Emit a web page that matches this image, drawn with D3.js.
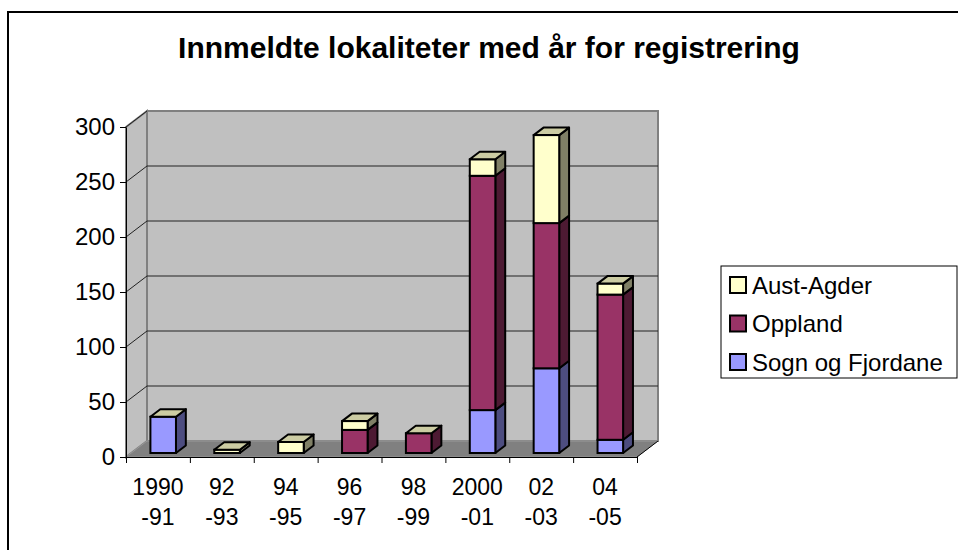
<!DOCTYPE html>
<html>
<head>
<meta charset="utf-8">
<script src="https://cdn.jsdelivr.net/npm/d3@7"></script>
<style>
  body { margin: 0; background: #fff; }
  svg { display: block; font-family: "Liberation Sans", Arial, sans-serif; }
</style>
</head>
<body>
<div id="chart"></div>
<script>
// data
const categories = ["1990 -91", "92 -93", "94 -95", "96 -97", "98 -99", "2000 -01", "02 -03", "04 -05"];
const sognFjordane = [33, 0, 0, 0, 0, 39, 77, 12];
const oppland = [0, 0, 0, 21, 18, 213, 132, 132];
const austAgder = [0, 3, 10, 8, 0, 15, 80, 10];
const yTicks = [0, 50, 100, 150, 200, 250, 300];

const seriesKeys = ["Sogn og Fjordane", "Oppland", "Aust-Agder"];
const legendOrder = ["Aust-Agder", "Oppland", "Sogn og Fjordane"];

const colors = {
  "Sogn og Fjordane": { front: "#9999FF", side: "#4D4D80" },
  "Oppland": { front: "#993366", side: "#4D1A33" },
  "Aust-Agder": { front: "#FFFFCC", side: "#808066" }
};
const topColor = "#CCCCA3";

const width = 958;
const height = 550;

// front plane of the plot
const x0 = 126, x1 = 637;
const yTop = 127, yBottom = 457;
// depth of the 3d box
const depth = { dx: 21, dy: -16 };
// bars sit between these fractions of the depth
const f1 = 0.25, f2 = 0.72;

const table = categories.map((c, i) => ({
  cat: c,
  "Sogn og Fjordane": sognFjordane[i],
  "Oppland": oppland[i],
  "Aust-Agder": austAgder[i]
}));

const stacked = d3.stack().keys(seriesKeys)(table);

const x = d3.scaleBand().domain(categories).range([x0, x1]);
const xEdge = d3.scaleLinear().domain([0, categories.length]).range([x0, x1]);
const y = d3.scaleLinear().domain([0, 300]).range([yBottom, yTop]);

const svg = d3.select("#chart").append("svg")
  .attr("width", width)
  .attr("height", height);

// outer chart border
svg.append("rect")
  .attr("x", 8).attr("y", 12)
  .attr("width", 1000).attr("height", 700)
  .attr("fill", "#fff")
  .attr("stroke", "#000")
  .attr("stroke-width", 2);

// title
svg.append("text")
  .attr("x", 489)
  .attr("y", 58)
  .attr("text-anchor", "middle")
  .attr("font-size", "30px")
  .attr("font-weight", "bold")
  .text("Innmeldte lokaliteter med år for registrering");

// walls
const bx0 = x0 + depth.dx, bx1 = x1 + depth.dx;
svg.append("rect")
  .attr("x", bx0)
  .attr("y", y(300) + depth.dy)
  .attr("width", bx1 - bx0)
  .attr("height", y(0) - y(300))
  .attr("fill", "#C0C0C0")
  .attr("stroke", "#808080")
  .attr("stroke-width", 2);

svg.append("polygon")
  .attr("points", [
    [x0, y(300)], [bx0, y(300) + depth.dy], [bx0, y(0) + depth.dy], [x0, y(0)]
  ].join(" "))
  .attr("fill", "#C0C0C0")
  .attr("stroke", "#808080")
  .attr("stroke-width", 2);

// floor
svg.append("polygon")
  .attr("points", [
    [x0, y(0)], [bx0, y(0) + depth.dy], [bx1, y(0) + depth.dy], [x1, y(0)]
  ].join(" "))
  .attr("fill", "#808080")
  .attr("stroke", "#999")
  .attr("stroke-width", 1);

// gridlines on back wall + slants on the side wall
const grid = yTicks.filter(t => t > 0 && t < 300);
svg.selectAll(".grid")
  .data(grid)
  .enter().append("line")
  .attr("x1", bx0).attr("x2", bx1)
  .attr("y1", d => y(d) + depth.dy)
  .attr("y2", d => y(d) + depth.dy)
  .attr("stroke", "#222")
  .attr("stroke-width", 1);

svg.selectAll(".slant")
  .data(yTicks.filter(t => t > 0))
  .enter().append("line")
  .attr("x1", x0).attr("x2", bx0)
  .attr("y1", d => y(d))
  .attr("y2", d => y(d) + depth.dy)
  .attr("stroke", "#222")
  .attr("stroke-width", 1);

// bars
const bw = x.bandwidth() * 0.4;
const o1 = { dx: depth.dx * f1, dy: depth.dy * f1 };
const o2 = { dx: depth.dx * f2, dy: depth.dy * f2 };

const bars = svg.append("g");
categories.forEach((c, i) => {
  const xl = x(c) + (x.bandwidth() - bw) / 2;
  const xr = xl + bw;
  stacked.forEach(layer => {
    const d = layer[i];
    if (d[1] - d[0] <= 0) return;
    const yt = y(d[1]), yb = y(d[0]);
    // side face
    bars.append("polygon")
      .attr("points", [
        [xr + o1.dx, yt + o1.dy], [xr + o2.dx, yt + o2.dy],
        [xr + o2.dx, yb + o2.dy], [xr + o1.dx, yb + o1.dy]
      ].join(" "))
      .attr("fill", colors[layer.key].side)
      .attr("stroke", "#000")
      .attr("stroke-width", 2)
      .attr("stroke-linejoin", "round");
    // front face
    bars.append("rect")
      .attr("x", xl + o1.dx)
      .attr("y", yt + o1.dy)
      .attr("width", bw)
      .attr("height", yb - yt)
      .attr("fill", colors[layer.key].front)
      .attr("stroke", "#000")
      .attr("stroke-width", 2);
  });
  // top face
  const total = stacked[stacked.length - 1][i][1];
  const yt = y(total);
  bars.append("polygon")
    .attr("points", [
      [xl + o1.dx, yt + o1.dy], [xr + o1.dx, yt + o1.dy],
      [xr + o2.dx, yt + o2.dy], [xl + o2.dx, yt + o2.dy]
    ].join(" "))
    .attr("fill", topColor)
    .attr("stroke", "#000")
    .attr("stroke-width", 2)
    .attr("stroke-linejoin", "round");
});

// y axis
const yAxis = svg.append("g")
  .attr("transform", `translate(${x0},0)`)
  .call(d3.axisLeft(y).tickValues(yTicks).tickSize(6).tickSizeOuter(0).tickPadding(5));
yAxis.select(".domain").attr("stroke", "#000");
yAxis.selectAll("text")
  .attr("font-size", "24px")
  .attr("font-family", "'Liberation Sans', Arial, sans-serif")
  .attr("fill", "#000");

// x axis: tick marks between categories
const xTickG = svg.append("g")
  .attr("transform", `translate(0,${yBottom})`)
  .call(d3.axisBottom(xEdge).tickValues(d3.range(categories.length + 1)).tickSize(6).tickSizeOuter(0).tickFormat(""));
xTickG.select(".domain").attr("stroke", "#000");

// right edge of the floor
svg.append("line")
  .attr("x1", x1).attr("y1", y(0))
  .attr("x2", bx1).attr("y2", y(0) + depth.dy)
  .attr("stroke", "#000");

// x labels, two lines each
const xLab = svg.append("g")
  .attr("transform", `translate(0,${yBottom})`)
  .call(d3.axisBottom(x).tickSize(0).tickSizeOuter(0));
xLab.select(".domain").remove();
xLab.selectAll("text")
  .attr("font-size", "23px")
  .attr("font-family", "'Liberation Sans', Arial, sans-serif")
  .attr("fill", "#000")
  .attr("dy", null)
  .attr("y", null)
  .each(function(d) {
    const parts = d.split(" ");
    const t = d3.select(this).text("");
    t.append("tspan").attr("x", 0).attr("y", 38).text(parts[0]);
    t.append("tspan").attr("x", 0).attr("y", 68).text(parts[1]);
  });

// legend
const legend = svg.append("g");
legend.append("rect")
  .attr("x", 721).attr("y", 266)
  .attr("width", 236).attr("height", 112)
  .attr("fill", "#fff")
  .attr("stroke", "#000")
  .attr("stroke-width", 1);

legend.selectAll(".item")
  .data(legendOrder)
  .enter().append("g")
  .attr("transform", (d, i) => `translate(729, ${285 + i * 38.5})`)
  .each(function(d) {
    const g = d3.select(this);
    g.append("rect")
      .attr("x", 1).attr("y", -8)
      .attr("width", 16).attr("height", 16)
      .attr("fill", colors[d].front)
      .attr("stroke", "#000")
      .attr("stroke-width", 2);
    g.append("text")
      .attr("x", 23)
      .attr("y", 8.5)
      .attr("font-size", "24px")
      .text(d);
  });
</script>
</body>
</html>
